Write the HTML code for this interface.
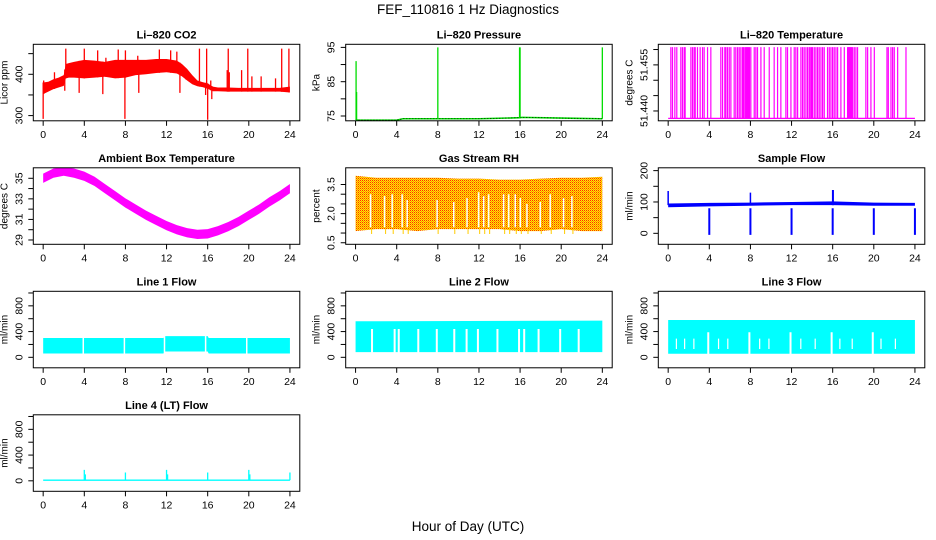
<!DOCTYPE html>
<html><head><meta charset="utf-8">
<style>
html,body{margin:0;padding:0;background:#fff;}
svg{display:block;font-family:"Liberation Sans",sans-serif;}
</style></head>
<body>
<svg id="chart" width="936" height="540" viewBox="0 0 936 540" xmlns="http://www.w3.org/2000/svg">
<defs>
<pattern id="rhpat" width="2" height="2" patternUnits="userSpaceOnUse">
<rect width="2" height="2" fill="#ffee00"/><rect width="1" height="1" fill="#ff2a00"/><rect x="1" y="1" width="1" height="1" fill="#ff8a00"/>
</pattern>
</defs>
<text x="468" y="14" font-size="13.5" text-anchor="middle">FEF_110816  1 Hz Diagnostics</text>
<text x="468" y="531" font-size="13.5" text-anchor="middle">Hour of Day (UTC)</text>
</svg>
<script>
// ---- data ----
const xTicks = [0,4,8,12,16,20,24];
const co2T  = [0,0.5,1,1.5,2,2.2,2.5,3,4,5,6,7,8,9,10,11,12,13,13.5,14,14.5,15,15.5,16,16.5,17,18,19,20,21,22,23,24];
const co2Lo = [352,358,364,368,372,390,392,392,390,392,394,390,392,398,400,403,405,402,395,385,376,371,369,365,359,359,358,358,358,358,358,358,356];
const co2Hi = [380,382,388,392,398,425,427,430,435,433,430,435,435,435,435,437,437,433,425,413,398,385,381,378,370,368,368,367,367,367,367,367,370];
const co2SpikeT = [0.05,2.2,4,5.3,7.3,8,11.3,12.4,13,15.2,15.9,18,19.9,23.2,23.9,1.1,13.9,16.3,18.1,20.3,21.2,22.6,9.2,6.1,17.9,19.3];
const co2SpikeV = [385,462,462,458,460,458,460,458,455,462,462,462,462,462,462,405,400,385,405,395,395,390,445,440,410,410];
const co2DipT = [0,7.95,16,3.5,5.8,9.3,13.3,2.1,16.4,15.8];
const co2DipV = [292,292,290,355,352,355,355,360,340,350];

const presT = [0,0.2,4,4.6,8,12,16,16.2,20,23.9,24];
const presV = [74,73.8,73.8,74.2,74.2,74.2,74.5,74.6,74.4,74.2,74.2];
const presSpT = [0.05,0.1,8,15.95,16,24];
const presSpV = [91,82,95,95,95,95];

const tempLow = 51.4376, tempHigh = 51.4608;
const tempSpikeT = [0.26,0.42,0.65,0.84,1.23,1.39,1.56,1.65,2.21,2.37,2.53,2.63,2.85,3.11,3.34,3.5,3.83,4.15,5.12,5.29,5.51,5.61,5.77,5.94,6.1,6.42,6.58,6.75,6.91,7.07,7.23,7.33,7.46,7.56,7.65,7.72,7.82,7.91,8.04,8.37,8.53,8.69,9.02,9.34,9.83,10.31,10.64,10.96,11.45,11.61,11.94,12.26,12.42,12.59,12.91,13.07,13.23,13.4,13.56,13.72,13.82,13.95,14.04,14.21,14.37,14.53,14.69,14.86,15.02,15.18,15.5,15.67,15.83,15.99,16.15,16.32,16.48,16.8,17.13,17.45,17.52,17.58,17.64,17.71,17.77,17.84,17.94,18.1,18.26,18.42,19.23,19.4,19.72,20.05,21.28,21.41,21.67,21.83,21.99,22.32,23.13];

const ambT = [0,1,2,3,4,5,6,7,8,9,10,11,12,13,14,15,16,17,18,19,20,21,22,23,24];
const ambMid = [35.0,35.5,35.7,35.5,35.2,34.7,34.0,33.3,32.6,32.0,31.4,30.9,30.4,30.0,29.7,29.55,29.6,29.9,30.3,30.8,31.4,32.0,32.7,33.3,34.0];

const rhT = [0,2,4,6,8,10,12,14,16,18,20,22,24];
const rhHi = [3.95,3.85,3.85,3.85,3.85,3.8,3.8,3.75,3.75,3.8,3.85,3.85,3.9];
const rhLo = [1.1,1.2,1.2,1.1,1.2,1.2,1.2,1.2,1.1,1.1,1.2,1.1,1.1];
const rhGapT = [1.46,2.82,3.56,4.53,5.02,7.93,9.55,10.84,11.97,12.46,12.94,14.4,14.89,15.53,16.02,16.67,17.96,18.93,20.23,21.04];
const rhGapTop = [3.0,2.9,3.0,3.0,2.7,2.7,2.6,2.8,3.1,2.9,3.0,3.0,3.0,3.0,2.8,2.5,2.6,3.0,2.8,2.9];

const sfT = [0,4,8,12,16,20,24];
const sfLo = [83,86,88,90,90,88,88];
const sfHi = [95,97,98,100,102,98,97];
const sfDropT = [4,8,12,16,20,24];
const sfDropV = [-5,-5,-5,-5,-5,-5];
const sfSpikeT = [0,8,16,16.05];
const sfSpikeV = [135,130,138,138];

const l1T = [0,11.7,11.8,16,16.1,24];
const l1Lo = [60,60,90,90,60,60];
const l1Hi = [300,300,330,330,300,300];
const l1GapT = [3.9,7.9,11.8,15.8,19.8];

const l2T = [0,24];
const l2Lo = [80,80];
const l2Hi = [560,570];
const l2GapT = [1.6,3.8,4.2,6.1,7.9,9.6,10.8,11.9,13.8,15.9,16.4,17.8,19.9,21.7];

const l3T = [0,24];
const l3Lo = [55,55];
const l3Hi = [580,580];
const l3GapT = [3.9,7.9,11.9,15.9,19.9];
const l3PartT = [0.8,1.6,2.5,4.9,5.8,8.9,9.8,12.9,14.3,16.7,17.9,20.7,22.1];

const l4SpikeT = [4,4.1,8,12,12.1,16,20,20.1,24];
const l4SpikeV = [170,100,130,170,100,130,170,100,130];

// ---- layout ----
const NS = "http://www.w3.org/2000/svg";
const svg = document.getElementById('chart');
const colX = [33.3,345.7,658.3], rowY = [44.3,167.8,291.3,414.8];
const PW = 266.5, PH = 76.5;
function mk(tag, attrs, parent){ const e=document.createElementNS(NS,tag); for(const k in attrs) e.setAttribute(k,attrs[k]); (parent||svg).appendChild(e); return e; }

function panel(name, col, row, title, ylab, ymin, ymax, yt, ylabels){
  const L=colX[col], T=rowY[row];
  const g = mk('g',{});
  
  
  const sx = v => L + (v+0.96)/25.92*PW;
  const sy = v => T + PH - (v-ymin)/(ymax-ymin)*PH;
  const clip = mk('clipPath',{id:'c'+name},g); mk('rect',{x:L,y:T,width:PW,height:PH},clip);
  const plot = mk('g',{'clip-path':'url(#c'+name+')'},g);
  
  
  const box = mk('rect',{x:L,y:T,width:PW,height:PH,fill:'none',stroke:'#000','stroke-width':1},g);
  
  
  const t = mk('text',{x:L+PW/2,y:T-6,'font-size':11,'font-weight':'bold','text-anchor':'middle'},g); t.textContent=title;
  
  
  const xa = mk('g',{},g);
  
  
  xTicks.forEach(v=>{ mk('line',{x1:sx(v),x2:sx(v),y1:T+PH,y2:T+PH+5,stroke:'#000'},xa);
    const tx=mk('text',{x:sx(v),y:T+PH+17,'font-size':10.5,'text-anchor':'middle'},xa); tx.textContent=v;
    
     });
  const ya = mk('g',{},g);
  
  
  yt.forEach((v,i)=>{ mk('line',{x1:L,x2:L-5,y1:sy(v),y2:sy(v),stroke:'#000'},ya);
    if(ylabels[i]){ const y=sy(v); const tx=mk('text',{x:L-11,y:y,'font-size':10.5,'text-anchor':'middle',transform:`rotate(-90 ${L-11} ${y})`},ya); tx.textContent=ylabels[i];
      
       }});
  const yl = mk('text',{x:L-26,y:T+PH/2,'font-size':10,'text-anchor':'middle',transform:`rotate(-90 ${L-26} ${T+PH/2})`},g); yl.textContent=ylab;
  
  
  return {sx,sy,plot};
}
function interp(ts,vs,t){ if(t<=ts[0])return vs[0]; for(let i=1;i<ts.length;i++){ if(t<=ts[i]){const f=(t-ts[i-1])/(ts[i]-ts[i-1]); return vs[i-1]+f*(vs[i]-vs[i-1]);} } return vs[vs.length-1]; }
function band(p,ts,lo,hi,fill,name){
  let pts=ts.map((t,i)=>p.sx(t)+','+p.sy(hi[i]));
  for(let i=ts.length-1;i>=0;i--) pts.push(p.sx(ts[i])+','+p.sy(lo[i]));
  const e=mk('polygon',{points:pts.join(' '),fill:fill},p.plot);
  
  
  return e;
}
function vline(p,t,v1,v2,color,w,name){
  const e=mk('line',{x1:p.sx(t),x2:p.sx(t),y1:p.sy(v1),y2:p.sy(v2),stroke:color,'stroke-width':w},p.plot);
  
  
}

// CO2
let p = panel('co2',0,0,'Li\u2013820 CO2','Licor ppm',287.4,472.6,[300,350,400,450],['300','','400','']);
band(p,co2T,co2Lo,co2Hi,'#ff0000','co2-band');
co2SpikeT.forEach((t,i)=>vline(p,t,interp(co2T,co2Lo,t),co2SpikeV[i],'#ff0000',1.3,'co2-spike'));
co2DipT.forEach((t,i)=>vline(p,t,interp(co2T,co2Hi,t),co2DipV[i],'#ff0000',1.3,'co2-dip'));

// Pressure
p = panel('pressure',1,0,'Li\u2013820 Pressure','kPa',73.6,95.9,[75,80,85,90,95],['75','','85','','95']);
{ const pts=presT.map((t,i)=>p.sx(t)+','+p.sy(presV[i])).join(' ');
  const e=mk('polyline',{points:pts,fill:'none',stroke:'#00dd00','stroke-width':1.6},p.plot);
   
  const e2=mk('polyline',{points:pts,fill:'none',stroke:'#000','stroke-width':0.8,'stroke-dasharray':'1 2'},p.plot);
    }
presSpT.forEach((t,i)=>vline(p,t,interp(presT,presV,t),presSpV[i],'#00dd00',1.3,'pressure-spike'));

// Li-820 temperature
p = panel('li820-temp',2,0,'Li\u2013820 Temperature','degrees C',51.4368,51.4617,[51.440,51.445,51.450,51.455,51.460],['51.440','','','51.455','']);
mk('line',{x1:p.sx(0),x2:p.sx(24),y1:p.sy(tempLow),y2:p.sy(tempLow),stroke:'#ff00ff','stroke-width':1.3},p.plot);
tempSpikeT.forEach(t=>vline(p,t,tempLow,tempHigh,'#ff00ff',1.2,'temp-spike'));

// Ambient box temperature
p = panel('ambient-temp',0,1,'Ambient Box Temperature','degrees C',28.58,36.02,[29,30,31,32,33,34,35],['29','','31','','33','','35']);
band(p,ambT,ambMid.map(v=>v-0.45),ambMid.map(v=>v+0.45),'#ff00ff','ambient-band');

// RH
p = panel('rh',1,1,'Gas Stream RH','percent',0.42,4.36,[0.5,1.0,1.5,2.0,2.5,3.0,3.5],['0.5','','','2.0','','','3.5']);
band(p,rhT,rhLo,rhHi,'url(#rhpat)','rh-band');
rhGapT.forEach((t,i)=>vline(p,t,1.3,rhGapTop[i],'#ffffff',1.5,'rh-gap'));
rhGapT.forEach((t,i)=>vline(p,t+0.1,1.2,0.95,'#ffcc00',1,'rh-dip'));

// Sample flow
p = panel('sample-flow',2,1,'Sample Flow','ml/min',-35,209,[0,50,100,150,200],['0','','100','','200']);
band(p,sfT,sfLo,sfHi,'#0000ff','sample-flow-band');
sfDropT.forEach((t,i)=>vline(p,t,80,sfDropV[i],'#0000ff',2,'sample-flow-drop'));
sfSpikeT.forEach((t,i)=>vline(p,t,90,sfSpikeV[i],'#0000ff',1.5,'sample-flow-spike'));

const flowTicks=[0,200,400,600,800,1000], flowLabels=['0','','400','','800',''];
// Line 1
p = panel('line1-flow',0,2,'Line 1 Flow','ml/min',-163,1026,flowTicks,flowLabels);
band(p,l1T,l1Lo,l1Hi,'#00ffff','line1-band');
l1GapT.forEach(t=>vline(p,t,40,340,'#ffffff',1.5,'line1-gap'));
// Line 2
p = panel('line2-flow',1,2,'Line 2 Flow','ml/min',-163,1026,flowTicks,flowLabels);
band(p,l2T,l2Lo,l2Hi,'#00ffff','line2-band');
l2GapT.forEach(t=>vline(p,t,70,440,'#ffffff',2,'line2-gap'));
// Line 3
p = panel('line3-flow',2,2,'Line 3 Flow','ml/min',-163,1026,flowTicks,flowLabels);
band(p,l3T,l3Lo,l3Hi,'#00ffff','line3-band');
l3GapT.forEach(t=>vline(p,t,40,390,'#ffffff',2,'line3-gap'));
l3PartT.forEach(t=>vline(p,t,130,290,'#ffffff',1.2,'line3-partial-gap'));
// Line 4
p = panel('line4-flow',0,3,'Line 4 (LT) Flow','ml/min',-163,1026,flowTicks,flowLabels);
band(p,[0,24],[0,0],[20,20],'#00ffff','line4-band');
l4SpikeT.forEach((t,i)=>vline(p,t,10,l4SpikeV[i],'#00ffff',1.3,'line4-spike'));
</script>
</body></html>
